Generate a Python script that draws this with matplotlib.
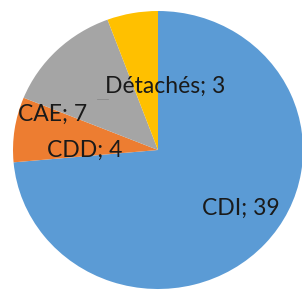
import matplotlib
matplotlib.use("Agg")
import matplotlib.pyplot as plt

categories = ["CDI", "CDD", "CAE", "Détachés"]
values = [39, 4, 7, 3]
colors = ["#5B9BD5", "#ED7D31", "#A5A5A5", "#FFC000"]

W, H = 302, 293
cx, cy, rx, ry = 158, 150, 145, 139

fig = plt.figure(figsize=(W / 100, H / 100), dpi=100)
ax = fig.add_axes([0, 0, 1, 1])
ax.pie(values, colors=colors, startangle=90, counterclock=False,
       wedgeprops=dict(linewidth=0))
ax.set_aspect("auto")
ax.set_xlim(-cx / rx, (W - cx) / rx)
ax.set_ylim(-(H - cy) / ry, cy / ry)
ax.axis("off")

def px(xp, yp):
    return (xp - cx) / rx, (cy - yp) / ry

label_pos = {"CDI": (241, 208), "CDD": (85, 150), "CAE": (53, 114), "Détachés": (165, 86)}
for cat, val in zip(categories, values):
    x, y = px(*label_pos[cat])
    ax.text(x, y, f"{cat}; {val}", ha="center", va="center",
            fontsize=16.5, color="#1a1a1a", family=["Lato", "DejaVu Sans"])

x0, y0 = px(97, 99)
x1, y1 = px(108, 99)
ax.plot([x0, x1], [y0, y1], color="#8a8a8a", linewidth=0.6)

fig.savefig("out.png", dpi=100)
